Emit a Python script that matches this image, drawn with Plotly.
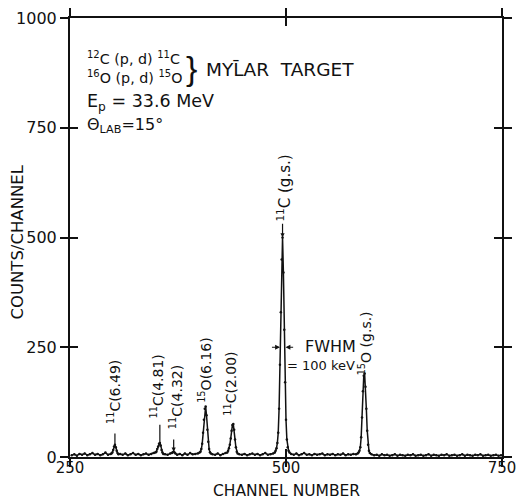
import plotly.graph_objects as go

# Channel numbers and counts per channel for the (p,d) spectrum on Mylar
channel = [
    252, 255, 258, 261, 264, 267, 270, 273, 276, 279, 282, 285, 288, 291, 294, 297,
    298, 299, 300, 301, 302, 303, 304, 305, 306,
    308, 311, 314, 317, 320, 323, 326, 329, 332, 335, 338, 341, 344, 347,
    349, 350, 351, 352, 353, 354, 355, 356, 357, 358,
    360, 363, 366,
    368, 369, 370, 371, 372,
    374, 377, 380, 383, 386, 389, 392, 395, 398,
    400, 401, 402, 403, 404, 405, 406, 407, 408, 409, 410, 411, 412, 413,
    415, 418, 421, 424, 427, 430, 432,
    433, 434, 435, 436, 437, 438, 439, 440, 441, 442, 443, 444,
    446, 449, 452, 455, 458, 461, 464, 467, 470, 473, 476, 479, 482, 485,
    487, 488, 489, 490, 491, 492, 493, 494, 495, 496, 497, 498, 499, 500, 501, 502, 503, 504,
    506, 509, 512, 515, 518, 521, 524, 527, 530, 533, 536, 539, 542, 545, 548, 551, 554,
    557, 560, 563, 566, 569, 572, 575, 578, 581, 583,
    584, 585, 586, 587, 588, 589, 590, 591, 592, 593, 594, 595, 596, 597,
    599, 602, 605, 608, 611, 614, 617, 620, 623, 626, 629, 632, 635, 638, 641, 644, 647,
    650, 653, 656, 659, 662, 665, 668, 671, 674, 677, 680, 683, 686, 689, 692, 695, 698,
    701, 704, 707, 710, 713, 716, 719, 722, 725, 728, 731, 734, 737, 740, 743, 746, 749,
]
counts = [
    4, 6, 3, 7, 5, 8, 4, 6, 9, 5, 7, 4, 6, 10, 5, 7,
    8, 10, 16, 24, 28, 22, 14, 9, 6,
    7, 5, 8, 4, 6, 9, 5, 7, 4, 6, 8, 5, 7, 9,
    10, 12, 18, 24, 30, 32, 26, 16, 10, 7,
    6, 5, 8,
    9, 11, 12, 10, 8,
    5, 7, 4, 8, 5, 9, 6, 7, 8,
    10, 12, 18, 30, 55, 85, 110, 115, 95, 62, 35, 18, 11, 8,
    6, 5, 8, 4, 7, 9, 10,
    14, 20, 28, 42, 60, 73, 75, 62, 40, 22, 12, 8,
    6, 5, 7, 4, 6, 8, 5, 7, 4, 6, 9, 5, 6, 8,
    10, 14, 20, 32, 55, 110, 210, 330, 450, 500, 420, 290, 170, 85, 40, 22, 14, 10,
    7, 5, 8, 4, 6, 9, 5, 6, 4, 7, 5, 6, 8, 4, 6, 5, 7,
    4, 6, 5, 8, 4, 6, 5, 7, 6, 8,
    10, 14, 22, 45, 90, 150, 185, 190, 160, 110, 60, 28, 14, 9,
    6, 4, 5, 3, 6, 4, 5, 3, 4, 6, 3, 5, 4, 3, 5, 4, 6,
    3, 4, 5, 3, 4, 6, 3, 5, 4, 3, 5, 4, 6, 3, 4, 5, 3,
    4, 6, 3, 5, 4, 3, 5, 4, 6, 3, 4, 5, 3, 4, 5, 3, 4,
]

# Axis ticks
x_ticks = [250, 500, 750]
y_ticks = [0, 250, 500, 750, 1000]

# Peak identifications: label, channel of label, counts at label centre, font size
peak_labels = ["<sup>11</sup>C(6.49)", "<sup>11</sup>C(4.81)", "<sup>11</sup>C(4.32)",
               "<sup>15</sup>O(6.16)", "<sup>11</sup>C(2.00)",
               "<sup>11</sup>C (g.s.)", "<sup>15</sup>O (g.s.)"]
label_channel = [301, 351, 373, 406, 436, 498, 591]
label_counts = [148, 161, 137, 198, 166, 612, 258]
label_size = [14, 14, 14, 14, 14, 15, 14]

# Marker lines from a label down to its peak: channel, top counts, bottom counts
marker_channel = [302, 354, 370, 496]
marker_top = [57, 77, 43, 535]
marker_bottom = [28, 32, 12, 500]

FONT = "DejaVu Sans"
BLACK = "#111111"

fig = go.Figure()
fig.add_trace(go.Scatter(
    x=channel, y=counts, mode="lines+markers",
    line=dict(color=BLACK, width=1.5),
    marker=dict(color=BLACK, size=2.5),
    showlegend=False, hoverinfo="skip",
))
# invisible trace on the overlaid axes so the inner tick marks are drawn
fig.add_trace(go.Scatter(x=[250], y=[0], xaxis="x2", yaxis="y2", mode="markers",
                         marker=dict(opacity=0), showlegend=False, hoverinfo="skip"))

axis_common = dict(showgrid=False, zeroline=False, showline=True, linecolor=BLACK,
                   linewidth=2, ticklen=8, tickwidth=2, tickcolor=BLACK, automargin=False)
tick_font = dict(family=FONT, size=16, color=BLACK)

fig.update_layout(
    width=520, height=499,
    margin=dict(l=70, r=18, t=18, b=42, autoexpand=False),
    paper_bgcolor="white", plot_bgcolor="white",
    xaxis=dict(range=[250, 750], tickvals=x_ticks, ticks="outside", mirror="ticks",
               ticklabelstandoff=-12, tickfont=dict(family=FONT, size=15, color=BLACK),
               **axis_common),
    yaxis=dict(range=[0, 1000], tickvals=y_ticks, ticks="outside", mirror="ticks",
               tickfont=tick_font, **axis_common),
    xaxis2=dict(range=[250, 750], tickvals=x_ticks, ticks="inside", mirror="ticks",
                overlaying="x", side="bottom", anchor="y2", showticklabels=False,
                **axis_common),
    yaxis2=dict(range=[0, 1000], tickvals=y_ticks, ticks="inside", mirror="ticks",
                overlaying="y", side="left", anchor="x2", showticklabels=False,
                **axis_common),
)

ann = []
# axis titles
ann.append(dict(text="CHANNEL NUMBER", xref="paper", yref="paper", x=0.5, y=-0.078,
                xanchor="center", yanchor="middle", showarrow=False,
                font=dict(family=FONT, size=15.5, color=BLACK)))
ann.append(dict(text="COUNTS/CHANNEL", xref="paper", yref="paper", x=-0.121, y=0.49,
                xanchor="center", yanchor="middle", textangle=-90, showarrow=False,
                font=dict(family=FONT, size=16.5, color=BLACK)))

# peak labels, written vertically
for lab, cx, cy, fs in zip(peak_labels, label_channel, label_counts, label_size):
    ann.append(dict(text=lab, x=cx, y=cy, xref="x", yref="y", textangle=-90,
                    xanchor="center", yanchor="middle", showarrow=False,
                    font=dict(family=FONT, size=fs, color=BLACK)))

# reaction / target block
block_font = dict(family=FONT, size=14.3, color=BLACK)
ann.append(dict(text="<sup>12</sup>C (p, d) <sup>11</sup>C", x=267, y=910, xref="x", yref="y",
                xanchor="left", yanchor="middle", showarrow=False, font=block_font))
ann.append(dict(text="<sup>16</sup>O (p, d) <sup>15</sup>O", x=267, y=866, xref="x", yref="y",
                xanchor="left", yanchor="middle", showarrow=False, font=block_font))
ann.append(dict(text="}", x=391, y=886, xref="x", yref="y", xanchor="center",
                yanchor="middle", showarrow=False,
                font=dict(family="Liberation Sans", size=34, color=BLACK)))
ann.append(dict(text="MYL\u0304AR  TARGET", x=405, y=883, xref="x", yref="y",
                xanchor="left", yanchor="middle", showarrow=False,
                font=dict(family=FONT, size=18.5, color=BLACK)))
ann.append(dict(text="E<sub>p</sub> = 33.6 MeV", x=267, y=808, xref="x", yref="y",
                xanchor="left", yanchor="middle", showarrow=False,
                font=dict(family=FONT, size=17.5, color=BLACK)))
ann.append(dict(text="\u0398<sub>LAB</sub>=15\u00b0", x=267, y=754, xref="x", yref="y",
                xanchor="left", yanchor="middle", showarrow=False,
                font=dict(family=FONT, size=16, color=BLACK)))

# resolution marker on the main peak
ann.append(dict(x=493, y=250, ax=482, ay=250, xref="x", yref="y", axref="x", ayref="y",
                showarrow=True, arrowhead=2, arrowsize=0.8, arrowwidth=1.2,
                arrowcolor=BLACK, text=""))
ann.append(dict(x=499.5, y=250, ax=510, ay=250, xref="x", yref="y", axref="x", ayref="y",
                showarrow=True, arrowhead=2, arrowsize=0.8, arrowwidth=1.2,
                arrowcolor=BLACK, text=""))
ann.append(dict(text="FWHM", x=552, y=252, xref="x", yref="y", xanchor="center",
                yanchor="middle", showarrow=False, font=dict(family=FONT, size=16, color=BLACK)))
ann.append(dict(text="= 100 keV", x=541, y=209, xref="x", yref="y", xanchor="center",
                yanchor="middle", showarrow=False, font=dict(family=FONT, size=13, color=BLACK)))

# pointer lines from labels to peaks (the 4.32 and g.s. ones carry arrowheads)
for i, (mx, top, bot) in enumerate(zip(marker_channel, marker_top, marker_bottom)):
    head = 2 if i >= 2 else 0
    ann.append(dict(x=mx, y=bot, ax=mx, ay=top, xref="x", yref="y", axref="x", ayref="y",
                    showarrow=True, arrowhead=head, arrowsize=0.7, arrowwidth=1.2,
                    arrowcolor=BLACK, text=""))

fig.update_layout(annotations=ann)
fig.write_html("out.html")
